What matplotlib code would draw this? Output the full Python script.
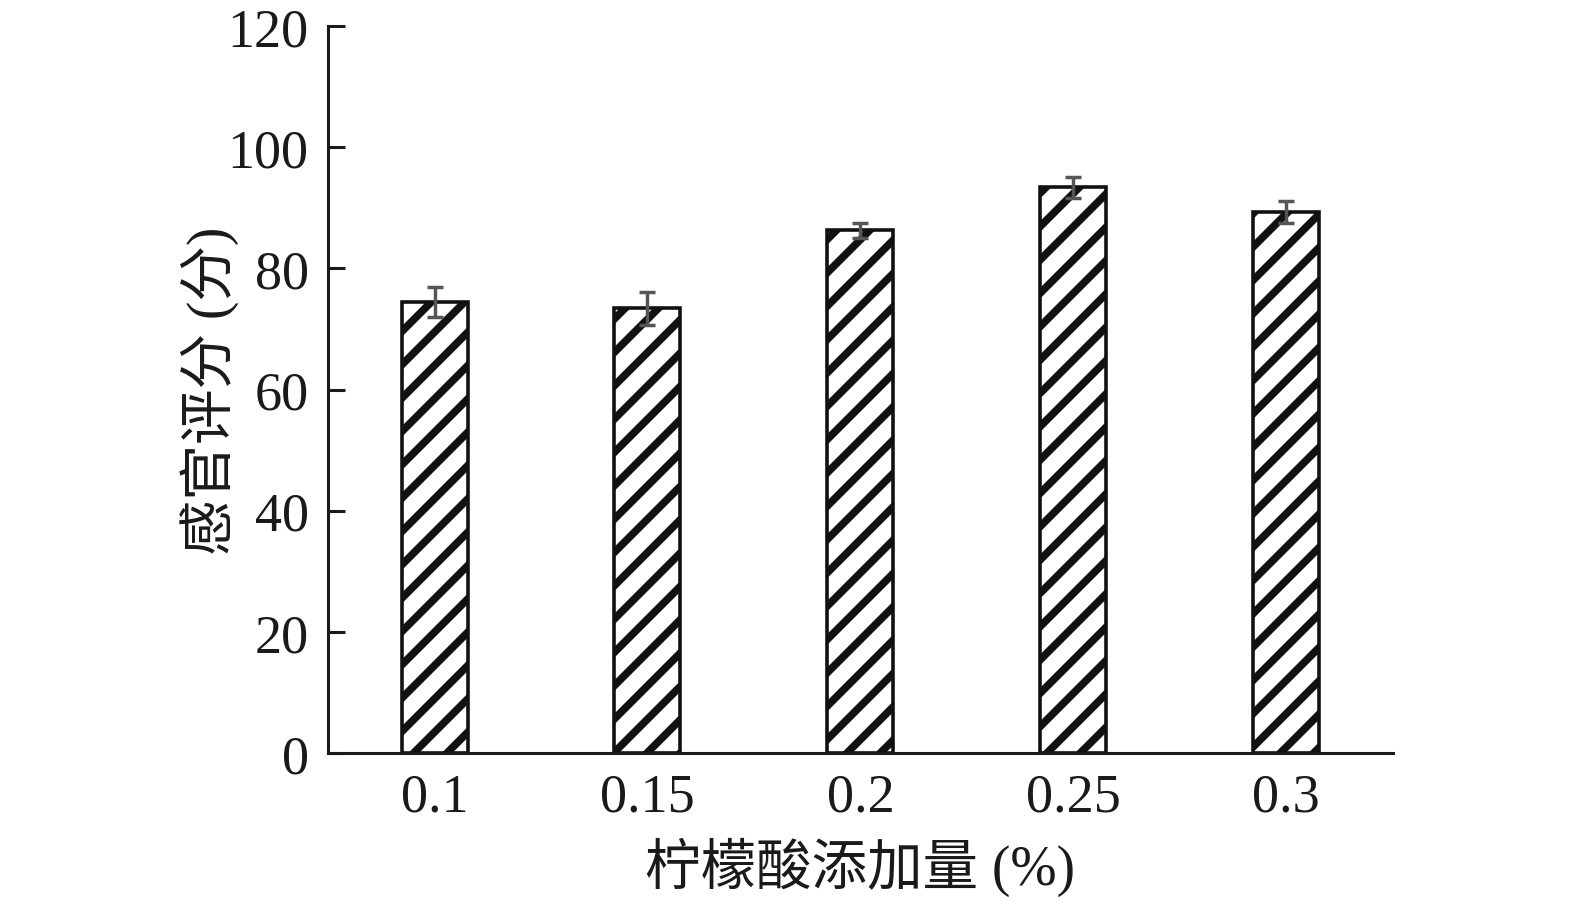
import numpy as np
import matplotlib
matplotlib.use("Agg")
import matplotlib.pyplot as plt

plt.rcParams['font.family'] = ['Liberation Serif', 'Noto Sans CJK SC']
plt.rcParams['hatch.linewidth'] = 5.5
plt.rcParams['hatch.color'] = 'black'

categories = ["0.1", "0.15", "0.2", "0.25", "0.3"]
scores = [74.4, 73.4, 86.3, 93.4, 89.3]
errors = [2.5, 2.7, 1.2, 1.7, 1.8]
yticks = [0, 20, 40, 60, 80, 100, 120]

fig = plt.figure(figsize=(15.75, 9.03), dpi=100)
ax = fig.add_axes([0.2083, 0.165, 0.676, 0.805])

x = np.arange(len(categories))
bars = ax.bar(x, scores, width=0.31, color='white', edgecolor='#111111',
              linewidth=2.6, hatch='/', zorder=2)
for b in bars:
    b.set_hatch_linewidth(5.5)
ax.errorbar(x, scores, yerr=errors, fmt='none', ecolor='#555555',
            elinewidth=2.5, capsize=6, capthick=2.5, zorder=3)

ax.set_xlim(-0.5, 4.5)
ax.set_ylim(0, 120)
ax.set_yticks(yticks)
ax.set_xticks(x)
ax.set_xticklabels(categories)

for s in ['top', 'right']:
    ax.spines[s].set_visible(False)
for s in ['left', 'bottom']:
    ax.spines[s].set_linewidth(2.2)
    ax.spines[s].set_color('#1a1a1a')

ax.tick_params(axis='y', direction='in', length=12, width=2.2, labelsize=39,
               pad=14, colors='#1a1a1a')
ax.tick_params(axis='x', length=0, labelsize=39, pad=14, colors='#1a1a1a')

ax.set_ylabel("感官评分 (分)", fontsize=40, labelpad=-8, color='#1a1a1a')
ax.set_xlabel("柠檬酸添加量 (%)", fontsize=40, labelpad=10, color='#1a1a1a')

fig.savefig("out.png", dpi=100)
